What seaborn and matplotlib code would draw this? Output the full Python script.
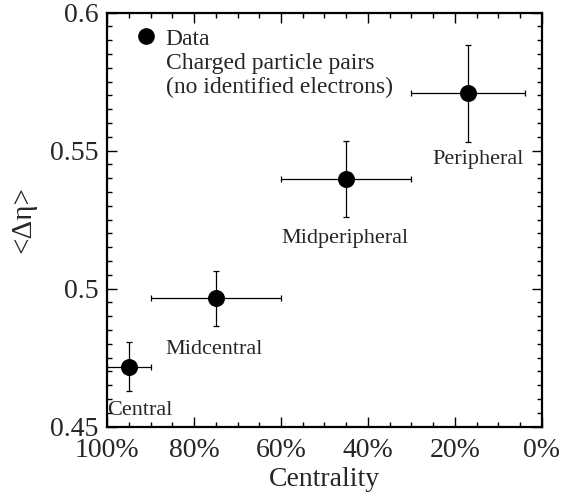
import seaborn as sns
import pandas as pd
import matplotlib
matplotlib.use("Agg")
import matplotlib.pyplot as plt
from matplotlib.ticker import MultipleLocator, FuncFormatter
from matplotlib.lines import Line2D

# data
classes = ["Central", "Midcentral", "Midperipheral", "Peripheral"]
centrality = [95, 75, 45, 17]
centrality_err = [5, 15, 15, 13]
deta = [0.4718, 0.4965, 0.5396, 0.5707]
deta_err = [0.009, 0.010, 0.0137, 0.0175]

# label anchor points (data coords)
label_x = [100, 75.5, 45.3, 14.7]
label_y = [0.4558, 0.4779, 0.5182, 0.5467]
label_ha = ["left", "center", "center", "center"]

df = pd.DataFrame({"cls": classes, "x": centrality, "xe": centrality_err,
                   "y": deta, "ye": deta_err})

sns.set_style("ticks")
plt.rcParams['font.family'] = ['Liberation Serif', 'DejaVu Serif']

fig = plt.figure(figsize=(5.71, 5.01), dpi=100)
ax = fig.add_axes([0.1874, 0.1483, 0.9492 - 0.1874, 0.975 - 0.1483])

ax.errorbar(df["x"], df["y"], xerr=df["xe"], yerr=df["ye"], fmt="none",
            ecolor="black", elinewidth=0.9, capsize=2.5, capthick=0.9, zorder=2)
sns.scatterplot(data=df, x="x", y="y", color="black", s=150, edgecolor="black",
                linewidth=0, ax=ax, zorder=3, legend=False)

for i, c in enumerate(classes):
    ax.text(label_x[i], label_y[i], c, ha=label_ha[i], va="center", fontsize=16)

ax.set_xlim(100, 0)
ax.set_ylim(0.45, 0.6)
ax.xaxis.set_major_locator(MultipleLocator(20))
ax.xaxis.set_minor_locator(MultipleLocator(5))
ax.yaxis.set_major_locator(MultipleLocator(0.05))
ax.yaxis.set_minor_locator(MultipleLocator(0.005))
ax.xaxis.set_major_formatter(FuncFormatter(lambda v, p: "%d%%" % round(v)))
ax.yaxis.set_major_formatter(FuncFormatter(lambda v, p: "%g" % round(v, 3)))
ax.tick_params(which="both", direction="in", top=True, right=True,
               labelsize=20, width=1, color="black")
ax.tick_params(which="major", length=7)
ax.tick_params(which="minor", length=3.5)
ax.tick_params(axis="x", pad=8)
ax.tick_params(axis="y", pad=6)
for s in ax.spines.values():
    s.set_linewidth(1.6)
    s.set_color("black")

ax.set_xlabel("Centrality", fontsize=20, labelpad=3)
ax.set_ylabel("<\u0394\u03b7>", fontsize=21, labelpad=10)

handles = [Line2D([], [], marker="o", color="black", linestyle="none", markersize=11),
           Line2D([], [], linestyle="none")]
leg = ax.legend(handles, ["Data", "Charged particle pairs\n(no identified electrons)"],
                loc="upper left", frameon=False, fontsize=17, handlelength=1.0,
                handletextpad=0.35, labelspacing=0.15, borderaxespad=0.0,
                bbox_to_anchor=(0.04, 0.985))
for t in leg.get_texts():
    t.set_linespacing(1.15)

fig.savefig("out.png", dpi=100)
